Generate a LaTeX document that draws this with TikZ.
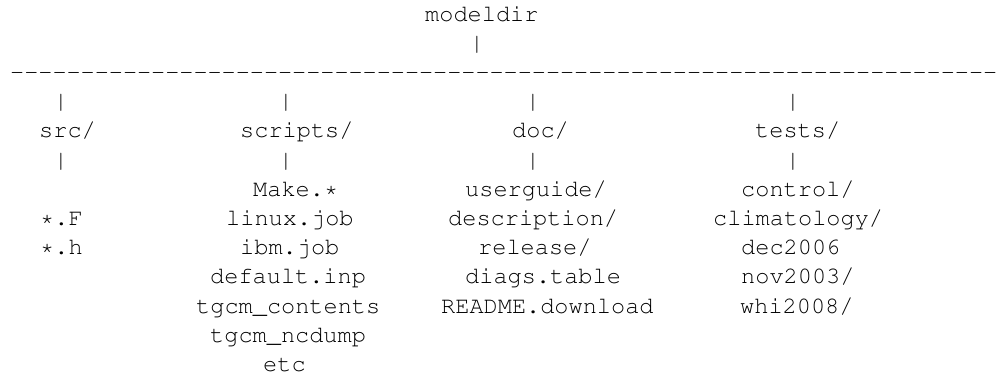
\documentclass[tikz,border=0pt]{standalone}
\usepackage[T1,TU]{fontenc}
% Courier (Nimbus Mono) for the whole listing
\newcommand\monotext{\fontencoding{T1}\fontfamily{pcr}\fontsize{23.6pt}{29.2pt}\selectfont}
\newcommand\dashten{{-}{-}{-}{-}{-}{-}{-}{-}{-}{-}}
\tikzset{
  entry/.style={font=\monotext, inner sep=0pt, anchor=base west, text=black},
  pipe/.style={font=\monotext, inner sep=0pt, anchor=base, text=black},
}
\begin{document}
\begin{tikzpicture}[x=1pt,y=-1pt]
\useasboundingbox (0,0) rectangle (1000,376);

% root and its branch line
\node[entry] (mdir) at (425,21) {modeldir};
\node[pipe]  (mpipe) at (477,50.2) {|};
\node[entry, font=\fontencoding{T1}\fontfamily{pcr}\fontsize{23.5pt}{29.2pt}\selectfont]
  (rule) at (10,79.4) {\dashten\dashten\dashten\dashten\dashten\dashten\dashten};

% pipes down to the four sub-directories
\node[pipe] (pa1) at (61,108.6) {|};
\node[pipe] (pa2) at (286,108.6) {|};
\node[pipe] (pa3) at (533,108.6) {|};
\node[pipe] (pa4) at (793,108.6) {|};

% sub-directories
\node[entry] (src)     at (39,137.8)  {src/};
\node[entry] (scripts) at (240,137.8) {scripts/};
\node[entry] (doc)     at (512,137.8) {doc/};
\node[entry] (tests)   at (755,137.8) {tests/};

\node[pipe] (pb1) at (61,167) {|};
\node[pipe] (pb2) at (286,167) {|};
\node[pipe] (pb3) at (533,167) {|};
\node[pipe] (pb4) at (793,167) {|};

% src contents
\node[entry] (srcF) at (40,225.4) {*.F};
\node[entry] (srch) at (40,254.6) {*.h};

% scripts contents
\node[entry] (make)     at (253,196.2) {Make.*};
\node[entry] (linux)    at (226,225.4) {linux.job};
\node[entry] (ibm)      at (240,254.6) {ibm.job};
\node[entry] (default)  at (210,283.8) {default.inp};
\node[entry] (contents) at (196,313)   {tgcm\_contents};
\node[entry] (ncdump)   at (210,342.2) {tgcm\_ncdump};
\node[entry] (etc)      at (263,371.4) {etc};

% doc contents
\node[entry] (guide)   at (465,196.2) {userguide/};
\node[entry] (descr)   at (448,225.4) {description/};
\node[entry] (release) at (478,254.6) {release/};
\node[entry] (diags)   at (465,283.8) {diags.table};
\node[entry] (readme)  at (441,313)   {README.download};

% tests contents
\node[entry] (control) at (741,196.2) {control/};
\node[entry] (clim)    at (713,225.4) {climatology/};
\node[entry] (dec)     at (741,254.6) {dec2006};
\node[entry] (nov)     at (741,283.8) {nov2003/};
\node[entry] (whi)     at (740,313)   {whi2008/};
\end{tikzpicture}
\end{document}
